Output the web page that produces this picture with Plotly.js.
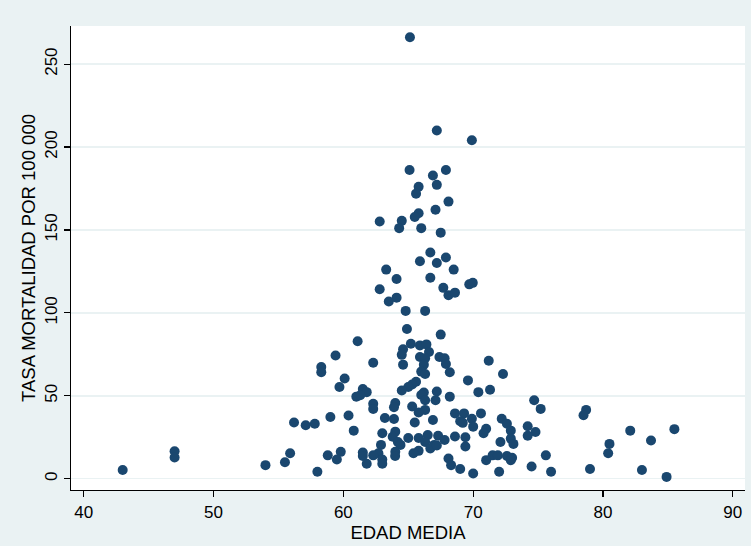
<!DOCTYPE html>
<html>
<head>
<meta charset="utf-8">
<script src="https://cdn.plot.ly/plotly-3.0.1.min.js"></script>
<style>html,body{margin:0;padding:0;background:#eaf2f3;}#chart{width:751px;height:546px;}</style>
</head>
<body>
<div id="chart"></div>
<script>
// Mean age (EDAD MEDIA) per unit
const edadMedia = [
 65.13, 67.2, 69.9, 65.1, 67.9, 66.9, 67.2, 65.8, 65.6, 68.1,
 67.1, 65.8, 65.5, 62.8, 64.5, 64.3, 66.0, 67.5, 66.7, 65.9,
 67.2, 67.9, 63.3, 68.5, 64.1, 66.7, 62.8, 67.7, 69.7, 69.97,
 68.1, 68.6, 64.1, 63.5, 64.8, 66.3, 64.9, 67.5, 61.1, 65.2,
 65.9, 66.4, 64.6, 66.6, 64.5, 65.9, 67.4, 67.8, 66.3, 59.4,
 71.2, 62.3, 64.6, 66.2, 67.9, 58.3, 58.3, 66.0, 66.3, 68.2,
 72.3, 60.1, 69.6, 65.6, 65.3, 65.0, 59.7, 71.3, 61.5, 61.8,
 64.5, 66.2, 67.2, 70.4, 61.0, 61.3, 66.0, 68.2, 67.1, 74.7,
 62.3, 64.0, 66.3, 65.3, 63.9, 62.3, 75.2, 66.3, 78.7, 78.5,
 65.8, 68.6, 69.3, 70.6, 60.4, 59.0, 63.2, 63.9, 69.9, 69.0,
 72.2, 66.9, 65.5, 56.2, 57.8, 57.1, 69.2, 72.6, 70.0, 74.2,
 85.5, 82.1, 71.0, 72.9, 60.8, 63.0, 70.8, 74.8, 64.0, 63.8,
 65.0, 65.8, 66.5, 67.3, 68.6, 69.4, 74.2, 72.9, 67.8, 83.7,
 64.2, 66.3, 72.1, 73.1, 80.5, 62.9, 64.4, 67.0, 66.7, 69.4,
 67.2, 65.8, 65.4, 64.0, 62.7, 61.5, 59.8, 55.9, 80.4, 47.0,
 47.0, 58.8, 62.3, 61.5, 63.99, 71.5, 71.9, 72.6, 75.6, 73.0,
 71.0, 72.9, 59.5, 68.1, 63.0, 61.8, 63.0, 55.5, 54.0, 68.3,
 74.5, 69.0, 79.0, 83.0, 43.0, 58.0, 72.0, 76.0, 70.0, 84.9
];
// Mortality rate per 100 000 (TASA MORTALIDAD POR 100 000)
const tasaMortalidad = [
 266.2, 210.0, 204.1, 186.2, 186.2, 182.9, 177.2, 176.1, 171.9, 167.1,
 162.2, 160.1, 157.8, 155.1, 155.5, 151.1, 151.1, 148.4, 136.4, 131.1,
 130.1, 133.4, 126.1, 126.1, 120.4, 121.2, 114.3, 115.1, 117.2, 118.1,
 110.7, 112.2, 109.2, 106.9, 101.2, 101.2, 90.3, 86.9, 82.9, 81.4,
 80.4, 81.0, 78.1, 76.4, 74.7, 73.4, 73.4, 72.6, 72.6, 74.3,
 71.1, 69.9, 68.8, 68.8, 69.2, 67.3, 64.2, 64.6, 63.1, 64.2,
 63.1, 60.4, 59.3, 58.5, 56.8, 55.3, 55.3, 53.7, 54.1, 52.2,
 53.2, 52.0, 52.6, 52.2, 49.5, 50.3, 50.5, 49.5, 47.3, 47.3,
 45.2, 45.7, 47.3, 43.6, 43.1, 42.1, 42.1, 41.5, 41.5, 38.3,
 40.0, 39.4, 39.4, 39.4, 38.1, 37.2, 36.6, 36.0, 36.2, 34.7,
 36.2, 35.4, 33.9, 33.9, 33.2, 32.2, 33.7, 33.2, 31.4, 31.6,
 29.9, 29.0, 30.1, 29.0, 29.0, 27.4, 27.4, 28.2, 28.4, 25.3,
 24.6, 24.6, 26.3, 25.9, 25.5, 25.0, 25.9, 24.2, 23.4, 23.1,
 22.1, 22.1, 22.1, 21.0, 21.0, 20.4, 20.4, 20.4, 18.3, 19.4,
 20.0, 16.8, 15.4, 16.2, 15.4, 15.8, 16.2, 15.4, 15.4, 16.6,
 12.8, 14.1, 14.1, 13.7, 13.7, 14.1, 14.1, 13.7, 14.1, 12.6,
 11.2, 11.2, 11.6, 12.2, 11.6, 9.0, 9.0, 9.9, 8.2, 8.2,
 7.4, 5.9, 5.9, 5.3, 5.3, 4.2, 4.2, 4.2, 3.2, 1.1
];
const xTicks = [40, 50, 60, 70, 80, 90];
const yTicks = [0, 50, 100, 150, 200, 250];

const trace = {
  x: edadMedia,
  y: tasaMortalidad,
  type: 'scatter',
  mode: 'markers',
  marker: {color: '#1a476f', size: 10, line: {width: 0}},
  hoverinfo: 'x+y'
};

const fontFam = 'Arial, "Liberation Sans", sans-serif';
const layout = {
  width: 751, height: 546,
  paper_bgcolor: '#eaf2f3',
  plot_bgcolor: '#ffffff',
  margin: {l: 71, r: 6, t: 26, b: 56, pad: 0},
  showlegend: false,
  font: {family: fontFam, color: '#000000'},
  xaxis: {
    range: [39.02, 90.94],
    tickmode: 'array', tickvals: xTicks, ticktext: xTicks.map(String),
    showgrid: false, zeroline: false,
    showline: true, linecolor: '#000000', linewidth: 1.3,
    ticks: 'outside', ticklen: 6, tickwidth: 1.2, tickcolor: '#000000',
    tickfont: {size: 17, family: fontFam, color: '#000000'},
    title: {text: 'EDAD MEDIA', font: {size: 18.5, family: fontFam, color: '#000000'}, standoff: 4},
    automargin: false
  },
  yaxis: {
    range: [-6.8, 273],
    tickmode: 'array', tickvals: yTicks, ticktext: yTicks.map(String),
    showgrid: true, gridcolor: '#eaf2f3', gridwidth: 1.5,
    zeroline: false,
    showline: true, linecolor: '#000000', linewidth: 1.3,
    ticks: 'outside', ticklen: 6, tickwidth: 1.2, tickcolor: '#000000',
    tickangle: -90,
    tickfont: {size: 17, family: fontFam, color: '#000000'},
    title: {text: 'TASA MORTALIDAD POR 100 000', font: {size: 18.5, family: fontFam, color: '#000000'}, standoff: 1},
    automargin: false
  }
};

Plotly.newPlot('chart', [trace], layout, {displayModeBar: false, staticPlot: true});
</script>
</body>
</html>
